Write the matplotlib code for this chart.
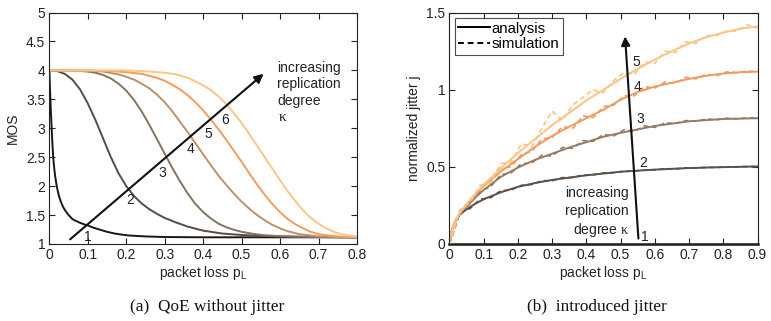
import matplotlib
matplotlib.use("Agg")
import matplotlib.pyplot as plt

plt.rcParams["font.family"] = ["Liberation Sans", "DejaVu Sans"]
plt.rcParams["mathtext.fontset"] = "custom"
plt.rcParams["mathtext.rm"] = "Liberation Serif"
plt.rcParams["mathtext.sf"] = "Liberation Sans"
plt.rcParams["mathtext.it"] = "Liberation Serif:italic"

# ---------------- (a) MOS versus packet loss, per replication degree ----------------
mos_p1 = [0, 0.002, 0.004, 0.006, 0.008, 0.01, 0.0125, 0.015, 0.0175, 0.02, 0.025,
          0.03, 0.035, 0.04, 0.05, 0.06, 0.07, 0.08, 0.09, 0.1, 0.115, 0.13, 0.15,
          0.17, 0.19, 0.21, 0.25, 0.3, 0.4, 0.8]
mos_k1 = [4.0, 3.62, 3.28, 3.0, 2.73, 2.5, 2.32, 2.18, 2.07, 1.97, 1.83,
          1.73, 1.65, 1.59, 1.50, 1.43, 1.395, 1.365, 1.34, 1.32, 1.28, 1.25, 1.21,
          1.18, 1.16, 1.145, 1.13, 1.12, 1.115, 1.115]

mos_p2 = [0, 0.02, 0.04, 0.06, 0.08, 0.1, 0.12, 0.14, 0.16, 0.18, 0.2, 0.22, 0.24,
          0.26, 0.28, 0.3, 0.33, 0.36, 0.4, 0.45, 0.5, 0.55, 0.6, 0.7, 0.8]
mos_k2 = [4.0, 3.99, 3.94, 3.84, 3.67, 3.43, 3.14, 2.82, 2.5, 2.22, 2.0, 1.83, 1.7,
          1.6, 1.52, 1.45, 1.37, 1.30, 1.23, 1.18, 1.155, 1.14, 1.13, 1.12, 1.115]

mos_p3 = [0, 0.05, 0.08, 0.1, 0.12, 0.14, 0.16, 0.18, 0.2, 0.22, 0.24, 0.26, 0.28,
          0.3, 0.32, 0.34, 0.36, 0.38, 0.4, 0.42, 0.44, 0.46, 0.48, 0.5, 0.53, 0.56,
          0.6, 0.65, 0.7, 0.8]
mos_k3 = [4.0, 4.0, 3.99, 3.98, 3.96, 3.92, 3.86, 3.77, 3.65, 3.49, 3.29, 3.06, 2.81,
          2.56, 2.31, 2.08, 1.87, 1.69, 1.55, 1.44, 1.35, 1.29, 1.245, 1.21, 1.175,
          1.15, 1.135, 1.125, 1.12, 1.115]

mos_p4 = [0, 0.1, 0.14, 0.18, 0.2, 0.22, 0.24, 0.26, 0.28, 0.3, 0.32, 0.34, 0.36,
          0.38, 0.4, 0.42, 0.44, 0.46, 0.48, 0.5, 0.52, 0.54, 0.56, 0.58, 0.6, 0.62,
          0.65, 0.7, 0.75, 0.8]
mos_k4 = [4.0, 4.0, 3.98, 3.93, 3.89, 3.84, 3.77, 3.69, 3.58, 3.45, 3.29, 3.11, 2.93,
          2.74, 2.55, 2.36, 2.18, 2.02, 1.87, 1.73, 1.61, 1.5, 1.41, 1.33, 1.27, 1.22,
          1.17, 1.13, 1.12, 1.115]

mos_p5 = [0, 0.15, 0.2, 0.24, 0.28, 0.3, 0.32, 0.34, 0.36, 0.38, 0.4, 0.42, 0.44,
          0.46, 0.48, 0.5, 0.52, 0.54, 0.56, 0.58, 0.6, 0.62, 0.64, 0.66, 0.68, 0.7,
          0.73, 0.76, 0.8]
mos_k5 = [4.0, 3.99, 3.97, 3.94, 3.87, 3.82, 3.75, 3.67, 3.57, 3.45, 3.31, 3.15, 2.98,
          2.8, 2.61, 2.42, 2.22, 2.03, 1.85, 1.69, 1.55, 1.43, 1.34, 1.27, 1.21, 1.17,
          1.14, 1.125, 1.115]

mos_p6 = [0, 0.2, 0.26, 0.3, 0.33, 0.36, 0.38, 0.4, 0.42, 0.44, 0.46, 0.48, 0.5,
          0.52, 0.54, 0.56, 0.58, 0.6, 0.62, 0.64, 0.66, 0.68, 0.7, 0.72, 0.74, 0.76,
          0.78, 0.8]
mos_k6 = [4.0, 4.0, 3.98, 3.96, 3.93, 3.87, 3.81, 3.74, 3.66, 3.55, 3.42, 3.26, 3.09,
          2.9, 2.7, 2.5, 2.3, 2.1, 1.91, 1.74, 1.58, 1.45, 1.35, 1.27, 1.21, 1.17,
          1.145, 1.13]

mos_colors = ["#1c1614", "#574b44", "#86725f", "#bb916b", "#f39c5c", "#fcc684"]
mos_labels = ["1", "2", "3", "4", "5", "6"]
mos_label_pos = [(0.099, 1.115), (0.21, 1.76), (0.294, 2.23), (0.368, 2.64),
                 (0.414, 2.90), (0.457, 3.15)]

# ---------------- (b) normalized jitter versus packet loss ----------------
jit_p2 = [0, 0.005, 0.01, 0.02, 0.03, 0.05, 0.075, 0.1, 0.15, 0.2, 0.25, 0.3, 0.4,
          0.5, 0.6, 0.7, 0.8, 0.9]
jit_k2 = [0, 0.07, 0.11, 0.16, 0.19, 0.225, 0.26, 0.29, 0.335, 0.37, 0.395, 0.415,
          0.445, 0.468, 0.482, 0.492, 0.498, 0.502]

jit_p3 = [0, 0.005, 0.01, 0.02, 0.03, 0.05, 0.075, 0.1, 0.15, 0.2, 0.25, 0.3, 0.35,
          0.4, 0.45, 0.5, 0.6, 0.7, 0.8, 0.9]
jit_k3 = [0, 0.07, 0.11, 0.16, 0.195, 0.245, 0.3, 0.35, 0.435, 0.495, 0.545, 0.585,
          0.625, 0.66, 0.695, 0.72, 0.765, 0.795, 0.81, 0.815]

jit_p45 = [0, 0.005, 0.01, 0.02, 0.03, 0.05, 0.075, 0.1, 0.15, 0.2, 0.25, 0.3, 0.35,
           0.4, 0.45, 0.5, 0.55, 0.6, 0.65, 0.7, 0.75, 0.8, 0.85, 0.9]
jit_k4 = [0, 0.07, 0.11, 0.16, 0.2, 0.255, 0.32, 0.375, 0.47, 0.55, 0.63, 0.70, 0.76,
          0.815, 0.87, 0.935, 0.985, 1.02, 1.045, 1.07, 1.09, 1.105, 1.113, 1.117]
jit_k5 = [0, 0.07, 0.11, 0.16, 0.2, 0.26, 0.325, 0.385, 0.49, 0.59, 0.68, 0.77, 0.85,
          0.93, 1.0, 1.07, 1.135, 1.195, 1.25, 1.3, 1.34, 1.37, 1.395, 1.41]

jit_p1 = [0, 0.9]
jit_k1 = [0, 0]

# simulation results, sampled every 0.03
sim_p = [0, 0.03, 0.06, 0.09, 0.12, 0.15, 0.18, 0.21, 0.24, 0.27, 0.3, 0.33, 0.36,
         0.39, 0.42, 0.45, 0.48, 0.51, 0.54, 0.57, 0.6, 0.63, 0.66, 0.69, 0.72, 0.75,
         0.78, 0.81, 0.84, 0.87, 0.9]
sim_k2 = [0, 0.2, 0.23, 0.29, 0.30, 0.345, 0.35, 0.38, 0.385, 0.41, 0.41, 0.43, 0.43,
          0.447, 0.448, 0.46, 0.462, 0.472, 0.472, 0.48, 0.48, 0.487, 0.486, 0.493,
          0.492, 0.497, 0.496, 0.5, 0.499, 0.502, 0.502]
sim_k3 = [0, 0.2, 0.26, 0.345, 0.37, 0.45, 0.46, 0.52, 0.525, 0.575, 0.57, 0.625, 0.62,
          0.67, 0.665, 0.71, 0.70, 0.74, 0.73, 0.765, 0.755, 0.785, 0.78, 0.80, 0.795,
          0.81, 0.805, 0.815, 0.81, 0.818, 0.815]
sim_k4 = [0, 0.21, 0.27, 0.37, 0.40, 0.49, 0.50, 0.58, 0.60, 0.68, 0.69, 0.76, 0.75,
          0.83, 0.82, 0.89, 0.90, 0.96, 0.96, 1.02, 1.01, 1.05, 1.04, 1.08, 1.07, 1.10,
          1.09, 1.115, 1.11, 1.12, 1.117]
sim_k5 = [0, 0.22, 0.27, 0.38, 0.40, 0.52, 0.53, 0.65, 0.63, 0.75, 0.86, 0.80, 0.90,
          0.95, 1.00, 0.98, 1.06, 1.11, 1.10, 1.18, 1.17, 1.25, 1.24, 1.31, 1.30, 1.35,
          1.35, 1.38, 1.38, 1.42, 1.40]

jit_colors = ["#1c1614", "#5c5048", "#9a7b62", "#ef9a5e", "#fdc384"]
jit_labels = ["1", "2", "3", "4", "5"]
jit_label_pos = [(0.572, 0.043), (0.565, 0.527), (0.557, 0.81), (0.55, 1.015),
                 (0.547, 1.18)]

TICK_FS = 10
LABEL_FS = 10


def style_axes(ax):
    ax.tick_params(direction="in", length=4, width=0.8, top=True, right=True,
                   labelsize=TICK_FS, pad=3, colors="#222222", labelcolor="#222222")
    for s in ax.spines.values():
        s.set_linewidth(0.8)
        s.set_color("#222222")


fig = plt.figure(figsize=(7.71, 3.21), dpi=100)

# ---- panel (a)
ax1 = fig.add_axes([0.064, 0.240, 0.399, 0.721])
curves_a = [(mos_p1, mos_k1), (mos_p2, mos_k2), (mos_p3, mos_k3),
            (mos_p4, mos_k4), (mos_p5, mos_k5), (mos_p6, mos_k6)]
for (px, py), c in zip(curves_a, mos_colors):
    ax1.plot(px, py, color=c, lw=1.4, solid_capstyle="round",
             solid_joinstyle="round")
ax1.set_xlim(0, 0.8)
ax1.set_ylim(1, 5)
ax1.set_xticks([0, 0.1, 0.2, 0.3, 0.4, 0.5, 0.6, 0.7, 0.8])
ax1.set_xticklabels(["0", "0.1", "0.2", "0.3", "0.4", "0.5", "0.6", "0.7", "0.8"])
ax1.set_yticks([1, 1.5, 2, 2.5, 3, 3.5, 4, 4.5, 5])
ax1.set_yticklabels(["1", "1.5", "2", "2.5", "3", "3.5", "4", "4.5", "5"])
style_axes(ax1)
ax1.set_xlabel(r"packet loss p$_\mathsf{L}$", fontsize=LABEL_FS, labelpad=1,
               color="#222222")
ax1.set_ylabel("MOS", fontsize=LABEL_FS, labelpad=4, color="#222222")
ax1.annotate("", xy=(0.557, 3.94), xytext=(0.054, 1.08),
             arrowprops=dict(arrowstyle="-|>", lw=1.5, color="#111111",
                             mutation_scale=13, shrinkA=0, shrinkB=0))
for lab, (lx, ly) in zip(mos_labels, mos_label_pos):
    ax1.text(lx, ly, lab, fontsize=TICK_FS, ha="center", va="center",
             color="#222222")
for i, line in enumerate(["increasing", "replication", "degree"]):
    ax1.text(0.592, 4.04 - i * 0.283, line, fontsize=TICK_FS, ha="left",
             va="center", color="#222222")
ax1.text(0.594, 3.2, r"$\mathrm{\kappa}$", fontsize=11, ha="left", va="center",
         color="#222222")

# ---- panel (b)
ax2 = fig.add_axes([0.583, 0.240, 0.3995, 0.721])
curves_b = [(jit_p1, jit_k1), (jit_p2, jit_k2), (jit_p3, jit_k3),
            (jit_p45, jit_k4), (jit_p45, jit_k5)]
sims_b = [None, sim_k2, sim_k3, sim_k4, sim_k5]
for (px, py), sy, c in zip(curves_b, sims_b, jit_colors):
    if sy is None:
        ax2.plot(px, py, color=c, lw=1.8, clip_on=False, zorder=1.5)
        continue
    ax2.plot(px, py, color=c, lw=1.4, solid_joinstyle="round")
    ax2.plot(sim_p, sy, color=c, lw=1.2, ls=(0, (3, 2)))
ax2.set_xlim(0, 0.9)
ax2.set_ylim(0, 1.5)
ax2.set_xticks([0, 0.1, 0.2, 0.3, 0.4, 0.5, 0.6, 0.7, 0.8, 0.9])
ax2.set_xticklabels(["0", "0.1", "0.2", "0.3", "0.4", "0.5", "0.6", "0.7", "0.8",
                     "0.9"])
ax2.set_yticks([0, 0.5, 1, 1.5])
ax2.set_yticklabels(["0", "0.5", "1", "1.5"])
style_axes(ax2)
ax2.set_xlabel(r"packet loss p$_\mathsf{L}$", fontsize=LABEL_FS, labelpad=1,
               color="#222222")
ax2.set_ylabel("normalized jitter j", fontsize=LABEL_FS, labelpad=4,
               color="#222222")
ax2.annotate("", xy=(0.513, 1.345), xytext=(0.552, 0.035),
             arrowprops=dict(arrowstyle="-|>", lw=1.5, color="#111111",
                             mutation_scale=13, shrinkA=0, shrinkB=0))
for lab, (lx, ly) in zip(jit_labels, jit_label_pos):
    ax2.text(lx, ly, lab, fontsize=TICK_FS, ha="center", va="center",
             color="#222222")
ax2.text(0.523, 0.333, "increasing", fontsize=TICK_FS, ha="right", va="center",
         color="#222222")
ax2.text(0.523, 0.216, "replication", fontsize=TICK_FS, ha="right", va="center",
         color="#222222")
ax2.text(0.523, 0.091, r"degree $\mathrm{\kappa}$", fontsize=TICK_FS, ha="right",
         va="center", color="#222222")

h1, = ax2.plot([], [], color="k", lw=1.4, label="analysis")
h2, = ax2.plot([], [], color="k", lw=1.4, ls=(0, (3, 2)), label="simulation")
leg = ax2.legend(handles=[h1, h2], loc="upper left", fontsize=10.8,
                 frameon=True, fancybox=False, handlelength=2.1,
                 handletextpad=0.1, borderpad=0.25, labelspacing=0.12,
                 borderaxespad=0.35)
leg.get_frame().set_edgecolor("#222222")
leg.get_frame().set_linewidth(0.8)

# ---- captions
fig.text(207 / 771, 1 - 307 / 321, "(a)  QoE without jitter",
         family="Liberation Serif", fontsize=12.4, ha="center", va="center",
         color="#111111")
fig.text(597 / 771, 1 - 307 / 321, "(b)  introduced jitter",
         family="Liberation Serif", fontsize=12.4, ha="center", va="center",
         color="#111111")

fig.savefig("out.png", dpi=100)
